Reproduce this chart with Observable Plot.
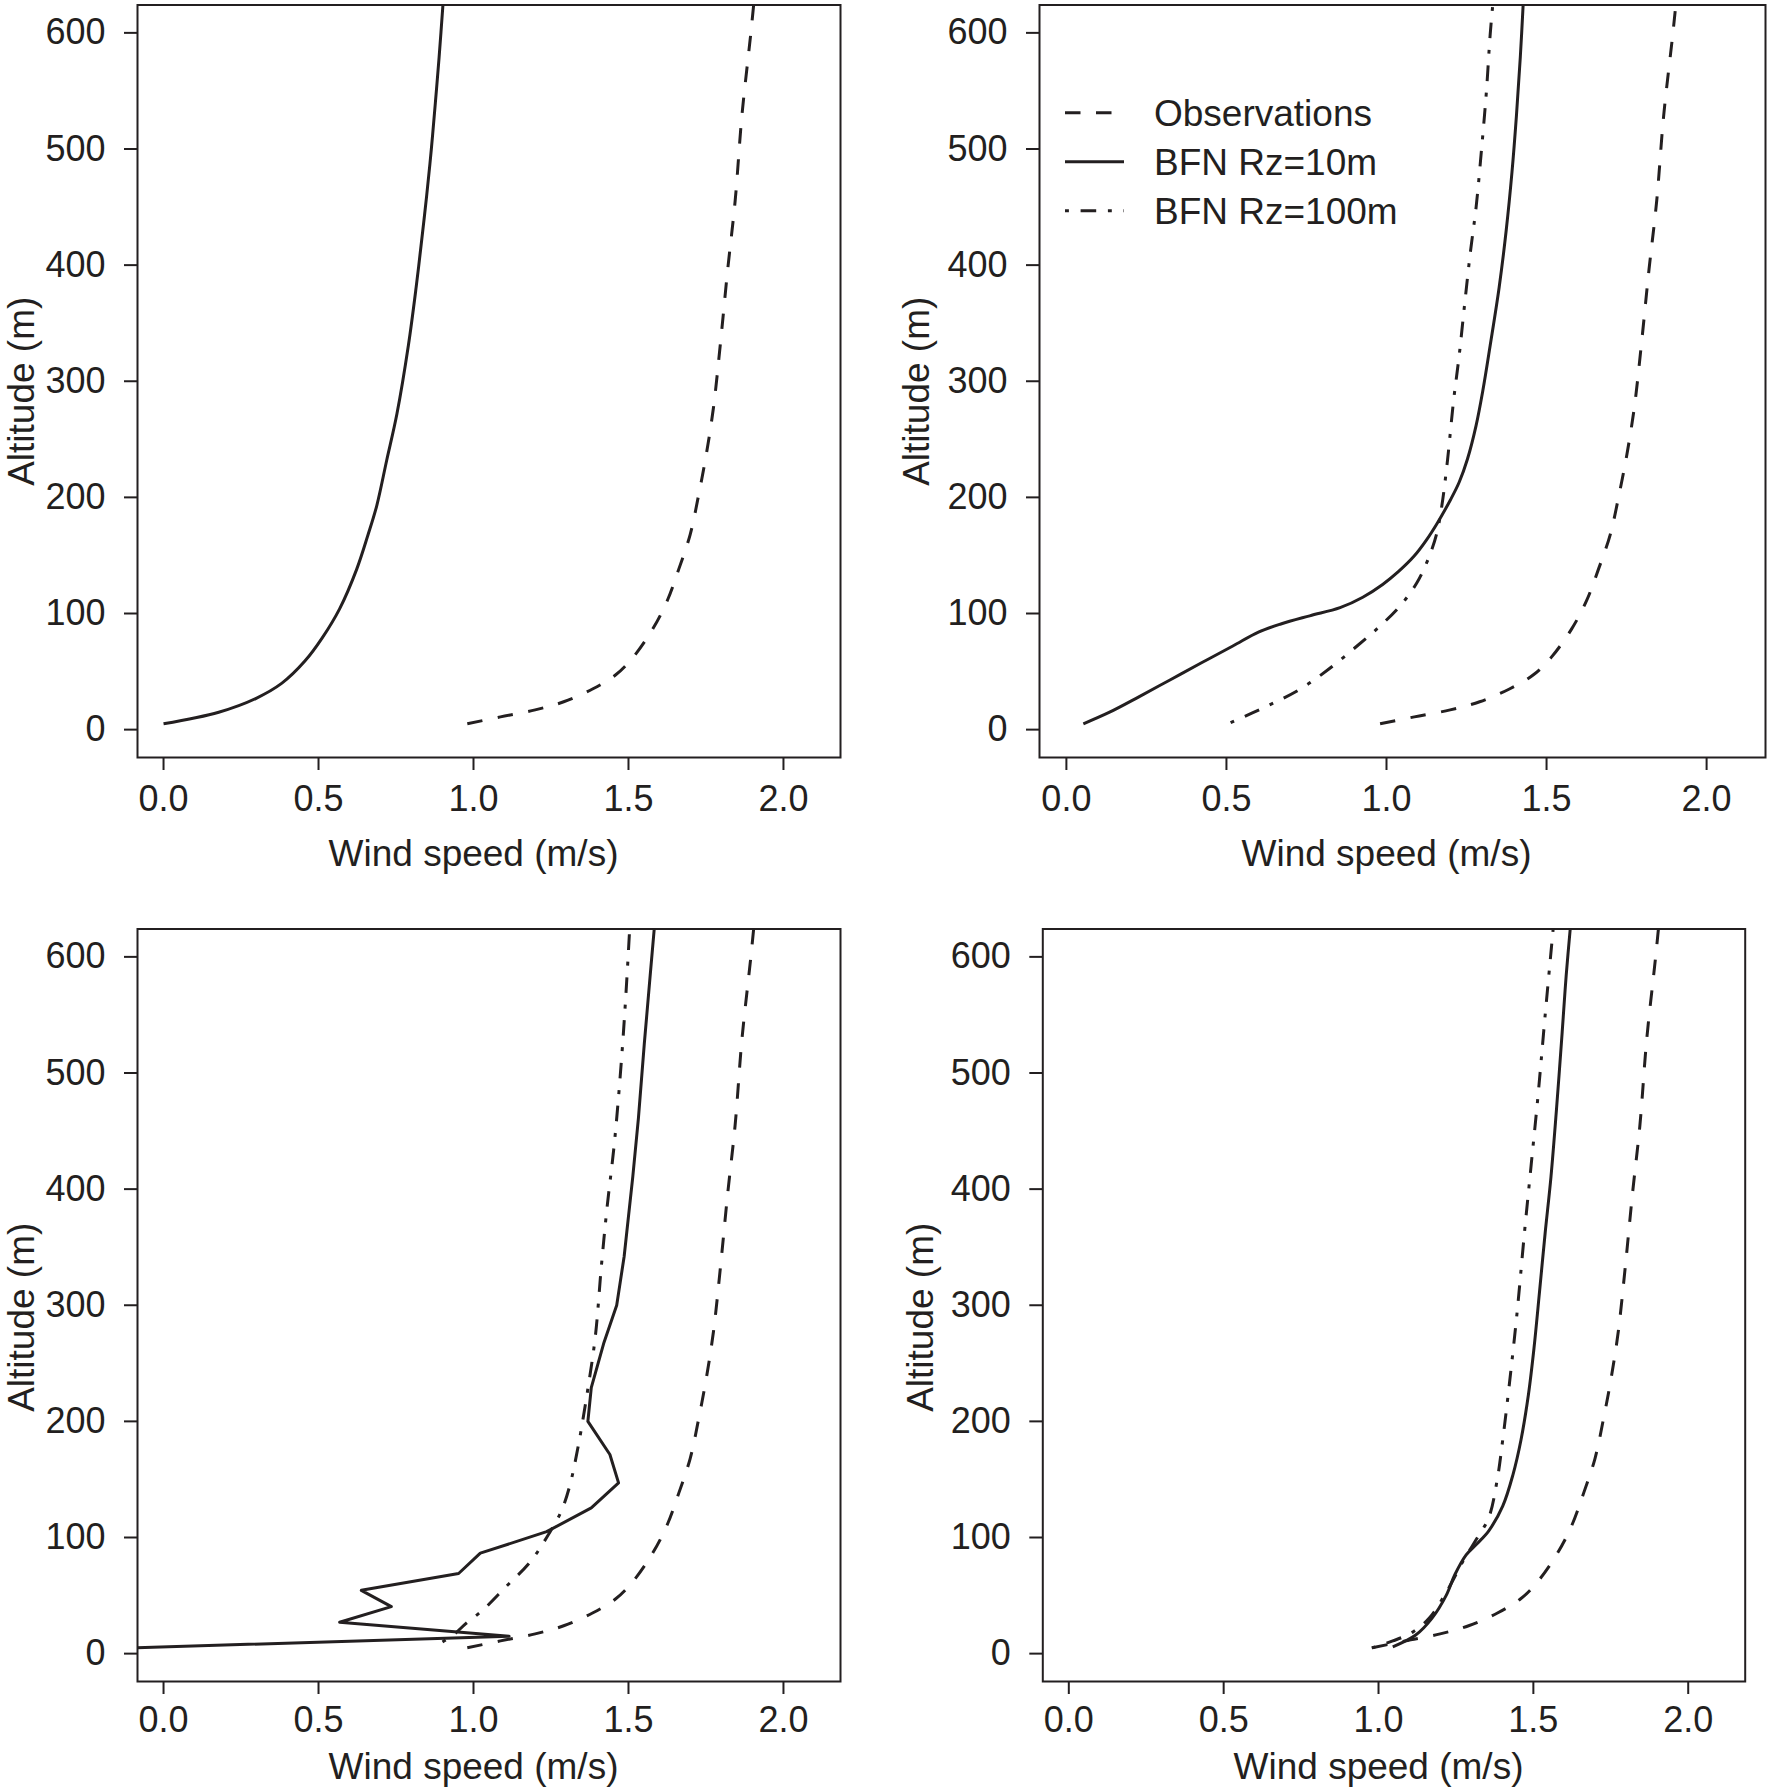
<!DOCTYPE html>
<html>
<head>
<meta charset="utf-8">
<script src="https://cdn.jsdelivr.net/npm/d3@7"></script>
<script src="https://cdn.jsdelivr.net/npm/@observablehq/plot@0.6"></script>
<style>
  html, body { margin: 0; padding: 0; background: #ffffff; }
  #fig { position: relative; width: 1767px; height: 1788px; overflow: hidden; background: #ffffff; }
  .panel { position: absolute; }
</style>
</head>
<body>
<div id="fig"></div>
<script>
// ---------------- data ----------------
const xTicks = [0, 0.5, 1.0, 1.5, 2.0];
const yTicks = [0, 100, 200, 300, 400, 500, 600];
const xLabel = "Wind speed (m/s)";
const yLabel = "Altitude (m)";
const legendLabels = ["Observations", "BFN Rz=10m", "BFN Rz=100m"];

// Observations (same profile in all four panels)
const obsAlt   = [5, 11, 17, 24, 35, 47, 62, 87, 111, 138, 168, 203, 237, 277, 331, 396, 455, 529, 598, 630];
const obsSpeed = [0.98, 1.087, 1.199, 1.291, 1.384, 1.458, 1.514, 1.579, 1.625, 1.662, 1.699, 1.727, 1.751, 1.774, 1.796, 1.820, 1.844, 1.866, 1.894, 1.906];

// Panel 1 (top left): BFN Rz=10m
const p1Rz10Alt   = [5, 15, 27, 40, 59, 79, 104, 138, 168, 193, 232, 272, 331, 381, 415, 460, 500, 540, 579, 630];
const p1Rz10Speed = [0, 0.178, 0.299, 0.382, 0.456, 0.512, 0.568, 0.623, 0.660, 0.688, 0.720, 0.753, 0.790, 0.815, 0.830, 0.849, 0.864, 0.877, 0.889, 0.903];

// Panel 2 (top right)
const p2Rz10Alt   = [5, 15, 28, 43, 58, 72, 84, 91, 98, 105, 114, 125, 136, 149, 163, 178, 198, 213, 233, 262, 292, 331, 381, 430, 480, 529, 579, 630];
const p2Rz10Speed = [0.053, 0.135, 0.225, 0.325, 0.425, 0.52, 0.60, 0.67, 0.76, 0.855, 0.926, 0.988, 1.037, 1.085, 1.124, 1.159, 1.200, 1.227, 1.253, 1.280, 1.301, 1.324, 1.352, 1.374, 1.392, 1.406, 1.418, 1.428];
const p2Rz100Alt   = [6, 20, 35, 52, 72, 89, 106, 126, 146, 168, 193, 233, 282, 322, 366, 411, 450, 500, 549, 599, 630];
const p2Rz100Speed = [0.513, 0.625, 0.731, 0.819, 0.908, 0.979, 1.041, 1.094, 1.129, 1.156, 1.173, 1.191, 1.209, 1.227, 1.244, 1.262, 1.280, 1.297, 1.312, 1.324, 1.334];

// Panel 3 (bottom left)
const p3Rz10Alt   = [4.9, 15, 27, 40.5, 54.5, 69, 86.5, 105, 125.5, 147, 171.5, 200, 229, 268, 300, 342, 411, 461, 525, 584, 630];
const p3Rz10Speed = [-0.1, 1.115, 0.568, 0.735, 0.638, 0.952, 1.022, 1.236, 1.380, 1.468, 1.440, 1.369, 1.380, 1.421, 1.462, 1.486, 1.514, 1.532, 1.551, 1.570, 1.585];
const p3Rz100Alt   = [10, 17, 26, 38, 58, 78, 100, 122, 144, 179, 223, 273, 332, 382, 441, 510, 569, 630];
const p3Rz100Speed = [0.90, 0.939, 0.976, 1.032, 1.106, 1.180, 1.236, 1.282, 1.310, 1.338, 1.366, 1.393, 1.412, 1.430, 1.455, 1.477, 1.492, 1.505];

// Panel 4 (bottom right)
const p4Rz10Alt   = [5.9, 15.8, 30.6, 50.4, 67.7, 85, 94.9, 105.8, 127, 154, 184, 223, 263, 312, 362, 411, 470, 535, 584, 630];
const p4Rz10Speed = [1.046, 1.119, 1.173, 1.219, 1.246, 1.283, 1.319, 1.356, 1.401, 1.434, 1.460, 1.484, 1.502, 1.520, 1.538, 1.557, 1.575, 1.593, 1.606, 1.621];
const p4Rz100Alt   = [4.9, 10.9, 18.3, 30.6, 52.9, 80.1, 99.8, 117.1, 149.3, 183.9, 233.3, 292.6, 361.8, 421.1, 480.4, 549.6, 630];
const p4Rz100Speed = [0.978, 1.046, 1.109, 1.164, 1.219, 1.274, 1.319, 1.356, 1.383, 1.401, 1.423, 1.447, 1.471, 1.493, 1.515, 1.538, 1.566];

// ---------------- styling ----------------
const ink = "#231f20";
const font = "'Liberation Sans', Arial, Helvetica, sans-serif";
const dashes = { obs: "15.5,15.5", rz10: null, rz100: "3.9,11.7,15.6,11.7" };
const legendDash = [dashes.obs, dashes.rz10, dashes.rz100];
const xDomain = [-0.084, 2.184];
const yDomain = [-24, 624];

const rows = (alt, speed) => speed.map((v, i) => ({ speed: v, alt: alt[i] }));

const panels = [
  { left: 0,   top: 0,     width: 880, height: 888,   mL: 137,   mR: 40,   mT: 4.5, mB: 131,   xPad: 15, xLabDy: 82, yLabDx: -115, yLabDy: 10, legend: false,
    series: [[obsAlt, obsSpeed, dashes.obs, true], [p1Rz10Alt, p1Rz10Speed, dashes.rz10, true]] },
  { left: 880, top: 0,     width: 887, height: 888,   mL: 159,   mR: 2,    mT: 4.5, mB: 131,   xPad: 15, xLabDy: 82, yLabDx: -122, yLabDy: 10, legend: true,
    series: [[obsAlt, obsSpeed, dashes.obs, true], [p2Rz10Alt, p2Rz10Speed, dashes.rz10, true], [p2Rz100Alt, p2Rz100Speed, dashes.rz100, true]] },
  { left: 0,   top: 923.5, width: 880, height: 864.5, mL: 137,   mR: 40,   mT: 4.5, mB: 107.5, xPad: 12, xLabDy: 71, yLabDx: -115, yLabDy: 12, legend: false,
    series: [[obsAlt, obsSpeed, dashes.obs, true], [p3Rz10Alt, p3Rz10Speed, dashes.rz10, false], [p3Rz100Alt, p3Rz100Speed, dashes.rz100, true]] },
  { left: 880, top: 923.5, width: 887, height: 864.5, mL: 162.3, mR: 22.3, mT: 4.5, mB: 107.5, xPad: 12, xLabDy: 71, yLabDx: -122, yLabDy: 12, legend: false,
    series: [[obsAlt, obsSpeed, dashes.obs, true], [p4Rz10Alt, p4Rz10Speed, dashes.rz10, true], [p4Rz100Alt, p4Rz100Speed, dashes.rz100, true]] }
];

function legendMark(index, scales, values, dims) {
  const g = d3.create("svg:g");
  legendLabels.forEach((label, i) => {
    const y = dims.marginTop + 108.3 + i * 49;
    const ln = g.append("line")
      .attr("x1", dims.marginLeft + 26).attr("x2", dims.marginLeft + 85)
      .attr("y1", y).attr("y2", y)
      .attr("stroke", ink).attr("stroke-width", 3);
    if (legendDash[i]) ln.attr("stroke-dasharray", legendDash[i]);
    g.append("text")
      .attr("x", dims.marginLeft + 115).attr("y", y).attr("dy", "0.35em")
      .attr("text-anchor", "start")
      .attr("font-size", 37).attr("font-family", font).attr("fill", ink)
      .text(label);
  });
  return g.node();
}

const fig = document.getElementById("fig");
for (const p of panels) {
  const frameW = p.width - p.mL - p.mR;
  const ppu = frameW / (xDomain[1] - xDomain[0]);
  const marks = [
    Plot.frame({ stroke: ink, strokeWidth: 2 }),
    Plot.axisX({ ticks: xTicks, tickFormat: d3.format(".1f"), tickSize: 13, tickPadding: p.xPad, strokeWidth: 2, fontSize: 36, label: null }),
    Plot.axisY({ ticks: yTicks, tickFormat: d3.format("d"), tickSize: 13, tickPadding: 19, strokeWidth: 2, fontSize: 36, label: null }),
    ...p.series.map(([alt, speed, dash, smooth]) =>
      Plot.line(rows(alt, speed), {
        x: "speed", y: "alt", stroke: ink, strokeWidth: 3,
        curve: smooth ? "catmull-rom" : "linear",
        strokeDasharray: dash || undefined, strokeLinecap: "butt", strokeLinejoin: "round",
        clip: true
      })),
    Plot.text([xLabel], { text: d => d, frameAnchor: "bottom", lineAnchor: "top", dx: -(1.05 - 1.0) * ppu, dy: p.xLabDy, fontSize: 37, fill: ink }),
    Plot.text([yLabel], { text: d => d, frameAnchor: "left", rotate: -90, textAnchor: "middle", lineAnchor: "middle", dx: p.yLabDx, dy: p.yLabDy, fontSize: 37, fill: ink })
  ];
  if (p.legend) marks.push(legendMark);
  const chart = Plot.plot({
    width: p.width, height: p.height,
    marginLeft: p.mL, marginRight: p.mR, marginTop: p.mT, marginBottom: p.mB,
    x: { domain: xDomain },
    y: { domain: yDomain },
    style: { fontFamily: font, fontSize: "36px", color: ink, background: "transparent", overflow: "visible", maxWidth: "none" },
    marks
  });
  const div = document.createElement("div");
  div.className = "panel";
  div.style.left = p.left + "px";
  div.style.top = p.top + "px";
  div.style.width = p.width + "px";
  div.style.height = p.height + "px";
  div.appendChild(chart);
  fig.appendChild(div);
}
</script>
</body>
</html>
